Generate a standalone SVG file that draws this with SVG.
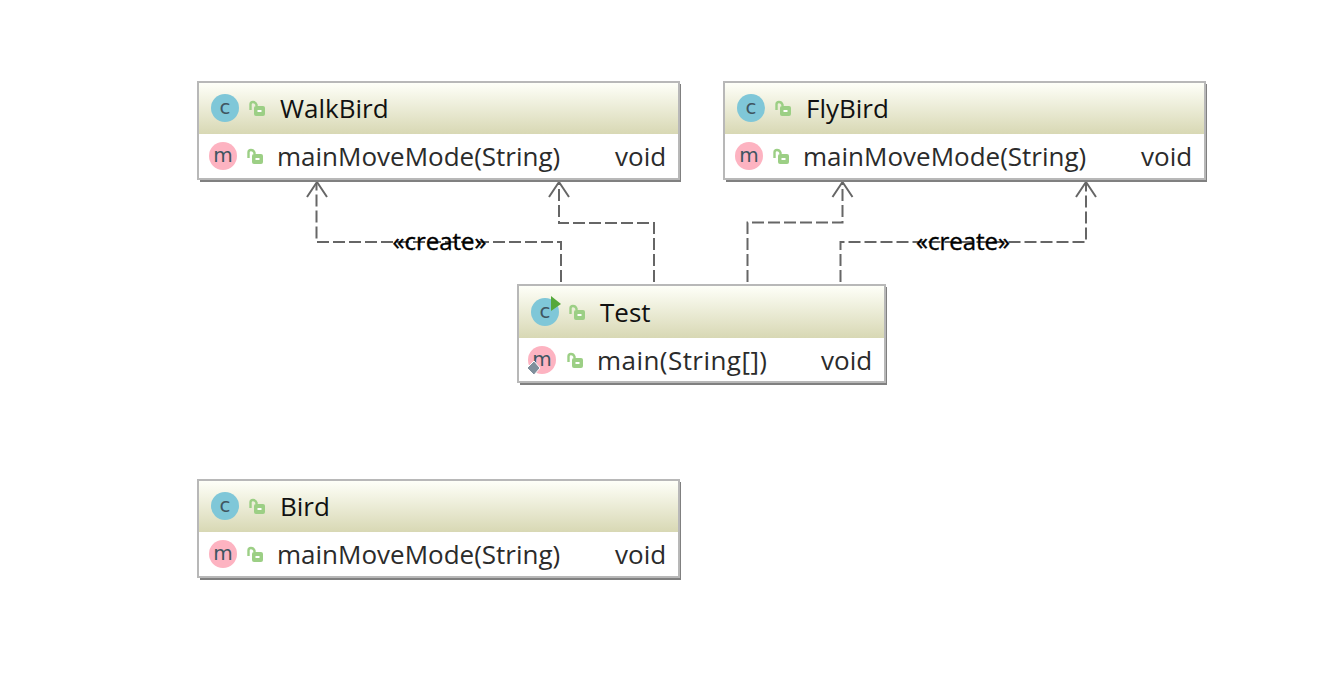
<svg xmlns="http://www.w3.org/2000/svg" width="1324" height="678" viewBox="0 0 1324 678">
<defs>
<linearGradient id="hd" x1="0" y1="0" x2="0" y2="1"><stop offset="0" stop-color="#fefff8"/><stop offset="1" stop-color="#d8d8b4"/></linearGradient>
<g id="lock"><path d="M1.500 9V3.400Q1.500 1 4 1T7.500 3.600V5" fill="none" stroke="#9ccf85" stroke-width="2.400"/><rect x="5" y="5" width="11" height="10" rx="2" fill="#9ccf85"/><rect x="8.500" y="9" width="4" height="2" fill="#fff"/></g>
<g id="cic"><circle cx="14" cy="14" r="14" fill="#7fc7d8"/><text x="14" y="20" class="ic">c</text></g>
<g id="mic"><circle cx="14" cy="14" r="14" fill="#fdb3c1"/><text x="14" y="19.500" class="ic">m</text></g>
</defs>
<style>
.box{fill:#fff;stroke:#b8b8b8;stroke-width:2}
.sh{fill:#808080}
.hd{fill:url(#hd)}
text{font-family:"Open Sans","Noto Sans","Liberation Sans",sans-serif}
.t{font-size:26px;fill:#111}
.m{font-size:26px;fill:#2b2b2b}
.ic{font-size:20px;fill:#3f5560;text-anchor:middle;font-family:"DejaVu Sans",sans-serif}
.lb{font-size:24px;fill:#000;stroke:#000;stroke-width:.4;text-anchor:middle}
.d{fill:none;stroke:#666;stroke-width:2;stroke-dasharray:12 4}
.a{fill:none;stroke:#666;stroke-width:2}
</style>
<rect width="1324" height="678" fill="#fff"/>
<g id="connectors">
<path class="d" d="M561 282V242H316.500V183"/><path class="a" d="M307 197L317 182L327 197"/>
<path class="d" d="M654 282V223H559V183"/><path class="a" d="M549 197L559 182L569 197"/>
<path class="d" d="M747.500 282V222.500H842.500V183"/><path class="a" d="M832.500 197L842.500 182L852.500 197"/>
<path class="d" d="M840.500 282V242H1086V183"/><path class="a" d="M1076 197L1086 182L1096 197"/>
<text class="lb" x="439.500" y="250">«create»</text>
<text class="lb" x="963" y="250">«create»</text>
</g>
<g id="WalkBird">
<rect class="sh" x="200" y="84" width="481" height="98"/><rect class="box" x="198" y="82" width="481" height="97"/>
<rect class="hd" x="199" y="83" width="479" height="51"/>
<use href="#cic" x="211" y="94"/><use href="#lock" x="249" y="101"/><text class="t" x="280" y="118">WalkBird</text>
<use href="#mic" x="209" y="142"/><use href="#lock" x="247" y="149"/><text class="m" x="277" y="166">mainMoveMode(String)</text><text class="m" x="615" y="166">void</text>
</g>
<g id="FlyBird">
<rect class="sh" x="726" y="84" width="481" height="98"/><rect class="box" x="724" y="82" width="481" height="97"/>
<rect class="hd" x="725" y="83" width="479" height="51"/>
<use href="#cic" x="737" y="94"/><use href="#lock" x="775" y="101"/><text class="t" x="806" y="118">FlyBird</text>
<use href="#mic" x="735" y="142"/><use href="#lock" x="773" y="149"/><text class="m" x="803" y="166">mainMoveMode(String)</text><text class="m" x="1141" y="166">void</text>
</g>
<g id="Test">
<rect class="sh" x="520" y="287" width="367" height="98"/><rect class="box" x="518" y="285" width="367" height="97"/>
<rect class="hd" x="519" y="286" width="365" height="52"/>
<use href="#cic" x="531" y="298"/><path d="M551 296L561 304L551 311Z" fill="#55a83a"/><use href="#lock" x="569" y="305"/><text class="t" x="600" y="322">Test</text>
<use href="#mic" x="528" y="346"/><path d="M534 361L540 368L534 375L527 368Z" fill="#7f8f9c" stroke="#fff" stroke-width="1"/><use href="#lock" x="567" y="353"/><text class="m" x="597" y="370" letter-spacing=".45">main(String[])</text><text class="m" x="821" y="370">void</text>
</g>
<g id="Bird">
<rect class="sh" x="200" y="482" width="481" height="98"/><rect class="box" x="198" y="480" width="481" height="97"/>
<rect class="hd" x="199" y="481" width="479" height="51"/>
<use href="#cic" x="211" y="492"/><use href="#lock" x="249" y="499"/><text class="t" x="280" y="516">Bird</text>
<use href="#mic" x="209" y="540"/><use href="#lock" x="247" y="547"/><text class="m" x="277" y="564">mainMoveMode(String)</text><text class="m" x="615" y="564">void</text>
</g>
</svg>
